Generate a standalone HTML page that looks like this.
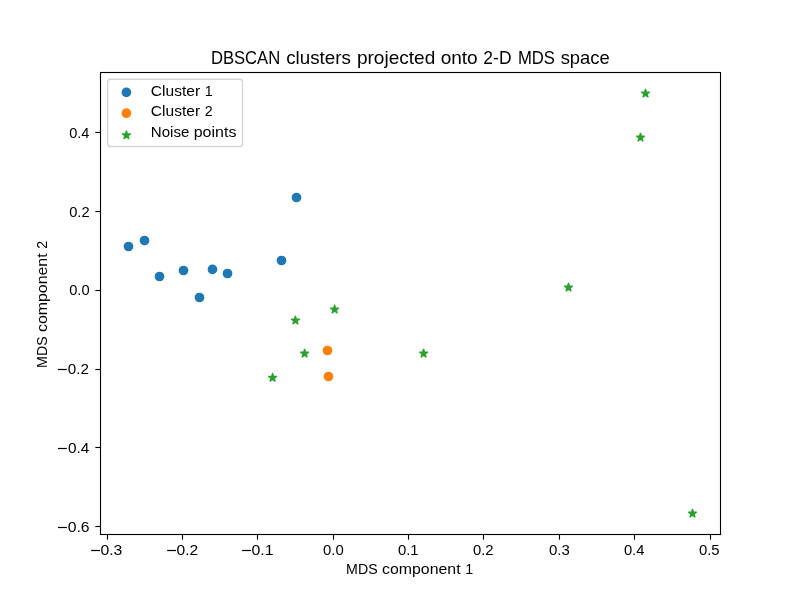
<!DOCTYPE html>
<html><head><meta charset="utf-8"><title>DBSCAN clusters</title>
<style>html,body{margin:0;padding:0;background:#fff;}svg{display:block;will-change:transform;}text{font-family:"Liberation Sans",sans-serif;fill:#000;}</style>
</head><body>
<svg width="800" height="600" viewBox="0 0 800 600">
<rect x="0" y="0" width="800" height="600" fill="#ffffff"/>
<circle cx="128.5" cy="246.5" r="4.861" fill="#1f77b4"/>
<circle cx="144.5" cy="240.5" r="4.861" fill="#1f77b4"/>
<circle cx="159.5" cy="276.5" r="4.861" fill="#1f77b4"/>
<circle cx="183.5" cy="270.5" r="4.861" fill="#1f77b4"/>
<circle cx="199.5" cy="297.5" r="4.861" fill="#1f77b4"/>
<circle cx="212.5" cy="269.4" r="4.861" fill="#1f77b4"/>
<circle cx="227.5" cy="273.5" r="4.861" fill="#1f77b4"/>
<circle cx="281.5" cy="260.5" r="4.861" fill="#1f77b4"/>
<circle cx="296.5" cy="197.5" r="4.861" fill="#1f77b4"/>
<circle cx="327.5" cy="350.5" r="4.861" fill="#ff7f0e"/>
<circle cx="328.5" cy="376.5" r="4.861" fill="#ff7f0e"/>
<polygon points="645.50,89.33 644.56,92.21 641.54,92.21 643.99,93.99 643.05,96.87 645.50,95.09 647.95,96.87 647.01,93.99 649.46,92.21 646.44,92.21" fill="#2ca02c" stroke="#2ca02c" stroke-width="1.389" stroke-linejoin="round"/>
<polygon points="640.50,133.33 639.56,136.21 636.54,136.21 638.99,137.99 638.05,140.87 640.50,139.09 642.95,140.87 642.01,137.99 644.46,136.21 641.44,136.21" fill="#2ca02c" stroke="#2ca02c" stroke-width="1.389" stroke-linejoin="round"/>
<polygon points="568.50,283.33 567.56,286.21 564.54,286.21 566.99,287.99 566.05,290.87 568.50,289.09 570.95,290.87 570.01,287.99 572.46,286.21 569.44,286.21" fill="#2ca02c" stroke="#2ca02c" stroke-width="1.389" stroke-linejoin="round"/>
<polygon points="334.60,305.28 333.66,308.16 330.64,308.16 333.09,309.94 332.15,312.82 334.60,311.04 337.05,312.82 336.11,309.94 338.56,308.16 335.54,308.16" fill="#2ca02c" stroke="#2ca02c" stroke-width="1.389" stroke-linejoin="round"/>
<polygon points="295.40,316.28 294.46,319.16 291.44,319.16 293.89,320.94 292.95,323.82 295.40,322.04 297.85,323.82 296.91,320.94 299.36,319.16 296.34,319.16" fill="#2ca02c" stroke="#2ca02c" stroke-width="1.389" stroke-linejoin="round"/>
<polygon points="304.60,349.33 303.66,352.21 300.64,352.21 303.09,353.99 302.15,356.87 304.60,355.09 307.05,356.87 306.11,353.99 308.56,352.21 305.54,352.21" fill="#2ca02c" stroke="#2ca02c" stroke-width="1.389" stroke-linejoin="round"/>
<polygon points="272.60,373.53 271.66,376.41 268.64,376.41 271.09,378.19 270.15,381.07 272.60,379.29 275.05,381.07 274.11,378.19 276.56,376.41 273.54,376.41" fill="#2ca02c" stroke="#2ca02c" stroke-width="1.389" stroke-linejoin="round"/>
<polygon points="423.60,349.33 422.66,352.21 419.64,352.21 422.09,353.99 421.15,356.87 423.60,355.09 426.05,356.87 425.11,353.99 427.56,352.21 424.54,352.21" fill="#2ca02c" stroke="#2ca02c" stroke-width="1.389" stroke-linejoin="round"/>
<polygon points="692.45,509.33 691.51,512.21 688.49,512.21 690.94,513.99 690.00,516.87 692.45,515.09 694.90,516.87 693.96,513.99 696.41,512.21 693.39,512.21" fill="#2ca02c" stroke="#2ca02c" stroke-width="1.389" stroke-linejoin="round"/>
<line x1="107.5" y1="534.5" x2="107.5" y2="539.65" stroke="#000" stroke-width="1.111"/>
<text x="100.47" y="555.00" font-size="14.2" textLength="21.91" lengthAdjust="spacingAndGlyphs">0.3</text>
<rect x="91.15" y="549.90" width="8.85" height="1.2" fill="#000"/>
<line x1="182.5" y1="534.5" x2="182.5" y2="539.65" stroke="#000" stroke-width="1.111"/>
<text x="176.48" y="555.00" font-size="14.2" textLength="21.71" lengthAdjust="spacingAndGlyphs">0.2</text>
<rect x="167.15" y="549.90" width="8.85" height="1.2" fill="#000"/>
<line x1="257.5" y1="534.5" x2="257.5" y2="539.65" stroke="#000" stroke-width="1.111"/>
<text x="251.46" y="555.00" font-size="14.2" textLength="22.08" lengthAdjust="spacingAndGlyphs">0.1</text>
<rect x="242.15" y="549.90" width="8.85" height="1.2" fill="#000"/>
<line x1="333.5" y1="534.5" x2="333.5" y2="539.65" stroke="#000" stroke-width="1.111"/>
<text x="323.00" y="555.00" font-size="14.2" textLength="20.69" lengthAdjust="spacingAndGlyphs">0.0</text>
<line x1="408.5" y1="534.5" x2="408.5" y2="539.65" stroke="#000" stroke-width="1.111"/>
<text x="398.01" y="555.00" font-size="14.2" textLength="20.64" lengthAdjust="spacingAndGlyphs">0.1</text>
<line x1="483.5" y1="534.5" x2="483.5" y2="539.65" stroke="#000" stroke-width="1.111"/>
<text x="473.01" y="555.00" font-size="14.2" textLength="20.64" lengthAdjust="spacingAndGlyphs">0.2</text>
<line x1="559.5" y1="534.5" x2="559.5" y2="539.65" stroke="#000" stroke-width="1.111"/>
<text x="548.90" y="555.00" font-size="14.2" textLength="20.85" lengthAdjust="spacingAndGlyphs">0.3</text>
<line x1="634.5" y1="534.5" x2="634.5" y2="539.65" stroke="#000" stroke-width="1.111"/>
<text x="623.91" y="555.00" font-size="14.2" textLength="20.54" lengthAdjust="spacingAndGlyphs">0.4</text>
<line x1="710.5" y1="534.5" x2="710.5" y2="539.65" stroke="#000" stroke-width="1.111"/>
<text x="698.90" y="555.00" font-size="14.2" textLength="20.69" lengthAdjust="spacingAndGlyphs">0.5</text>
<line x1="95.35" y1="132.5" x2="100.5" y2="132.5" stroke="#000" stroke-width="1.111"/>
<text x="69.17" y="138.00" font-size="14.2" textLength="20.27" lengthAdjust="spacingAndGlyphs">0.4</text>
<line x1="95.35" y1="211.5" x2="100.5" y2="211.5" stroke="#000" stroke-width="1.111"/>
<text x="69.16" y="217.00" font-size="14.2" textLength="20.48" lengthAdjust="spacingAndGlyphs">0.2</text>
<line x1="95.35" y1="290.5" x2="100.5" y2="290.5" stroke="#000" stroke-width="1.111"/>
<text x="69.16" y="295.00" font-size="14.2" textLength="20.43" lengthAdjust="spacingAndGlyphs">0.0</text>
<line x1="95.35" y1="369.5" x2="100.5" y2="369.5" stroke="#000" stroke-width="1.111"/>
<text x="67.89" y="374.00" font-size="14.2" textLength="21.17" lengthAdjust="spacingAndGlyphs">0.2</text>
<rect x="58.00" y="368.90" width="8.85" height="1.2" fill="#000"/>
<line x1="95.35" y1="447.5" x2="100.5" y2="447.5" stroke="#000" stroke-width="1.111"/>
<text x="67.98" y="453.00" font-size="14.2" textLength="21.38" lengthAdjust="spacingAndGlyphs">0.4</text>
<rect x="58.00" y="447.90" width="8.85" height="1.2" fill="#000"/>
<line x1="95.35" y1="526.5" x2="100.5" y2="526.5" stroke="#000" stroke-width="1.111"/>
<text x="67.67" y="532.00" font-size="14.2" textLength="21.86" lengthAdjust="spacingAndGlyphs">0.6</text>
<rect x="58.00" y="526.90" width="8.85" height="1.2" fill="#000"/>
<rect x="100.5" y="72.5" width="620" height="462" fill="none" stroke="#000" stroke-width="1.111"/>
<text x="210.89" y="63.70" font-size="18.4" textLength="69.35" lengthAdjust="spacingAndGlyphs">DBSCAN</text><text x="286.24" y="63.70" font-size="18.4" textLength="64.67" lengthAdjust="spacingAndGlyphs">clusters</text><text x="356.91" y="63.70" font-size="18.4" textLength="78.35" lengthAdjust="spacingAndGlyphs">projected</text><text x="440.66" y="63.70" font-size="18.4" textLength="37.05" lengthAdjust="spacingAndGlyphs">onto</text><text x="483.36" y="63.70" font-size="18.4" textLength="28.15" lengthAdjust="spacingAndGlyphs">2-D</text><text x="517.91" y="63.70" font-size="18.4" textLength="37.10" lengthAdjust="spacingAndGlyphs">MDS</text><text x="560.66" y="63.70" font-size="18.4" textLength="49.10" lengthAdjust="spacingAndGlyphs">space</text>
<text x="346.12" y="573.60" font-size="14.5" textLength="31.50" lengthAdjust="spacingAndGlyphs">MDS</text><text x="382.04" y="573.60" font-size="14.5" textLength="78.58" lengthAdjust="spacingAndGlyphs">component</text><text x="465.34" y="573.60" font-size="14.5" textLength="7.93" lengthAdjust="spacingAndGlyphs">1</text>
<g transform="rotate(-90 47.2 367.875511)"><text x="47.20" y="367.88" font-size="14.5" textLength="31.50" lengthAdjust="spacingAndGlyphs">MDS</text><text x="83.12" y="367.88" font-size="14.5" textLength="78.58" lengthAdjust="spacingAndGlyphs">component</text><text x="166.42" y="367.88" font-size="14.5" textLength="7.93" lengthAdjust="spacingAndGlyphs">2</text></g>
<rect x="107.6" y="79.3" width="134.9" height="67.2" rx="2.8" ry="2.8" fill="#ffffff" fill-opacity="0.8" stroke="#cccccc" stroke-opacity="0.8" stroke-width="1.389"/>
<circle cx="126.4" cy="92.4" r="4.861" fill="#1f77b4"/>
<circle cx="126.4" cy="113.2" r="4.861" fill="#ff7f0e"/>
<polygon points="126.40,131.03 125.46,133.91 122.44,133.91 124.89,135.69 123.95,138.57 126.40,136.79 128.85,138.57 127.91,135.69 130.36,133.91 127.34,133.91" fill="#2ca02c" stroke="#2ca02c" stroke-width="1.389" stroke-linejoin="round"/>
<text x="150.80" y="95.70" font-size="14.5" textLength="49.29" lengthAdjust="spacingAndGlyphs">Cluster</text><text x="204.81" y="95.70" font-size="14.5" textLength="7.93" lengthAdjust="spacingAndGlyphs">1</text>
<text x="150.80" y="116.00" font-size="14.5" textLength="49.29" lengthAdjust="spacingAndGlyphs">Cluster</text><text x="204.81" y="116.00" font-size="14.5" textLength="7.93" lengthAdjust="spacingAndGlyphs">2</text>
<text x="150.80" y="137.00" font-size="14.5" textLength="38.53" lengthAdjust="spacingAndGlyphs">Noise</text><text x="193.74" y="137.00" font-size="14.5" textLength="42.67" lengthAdjust="spacingAndGlyphs">points</text>
</svg></body></html>
